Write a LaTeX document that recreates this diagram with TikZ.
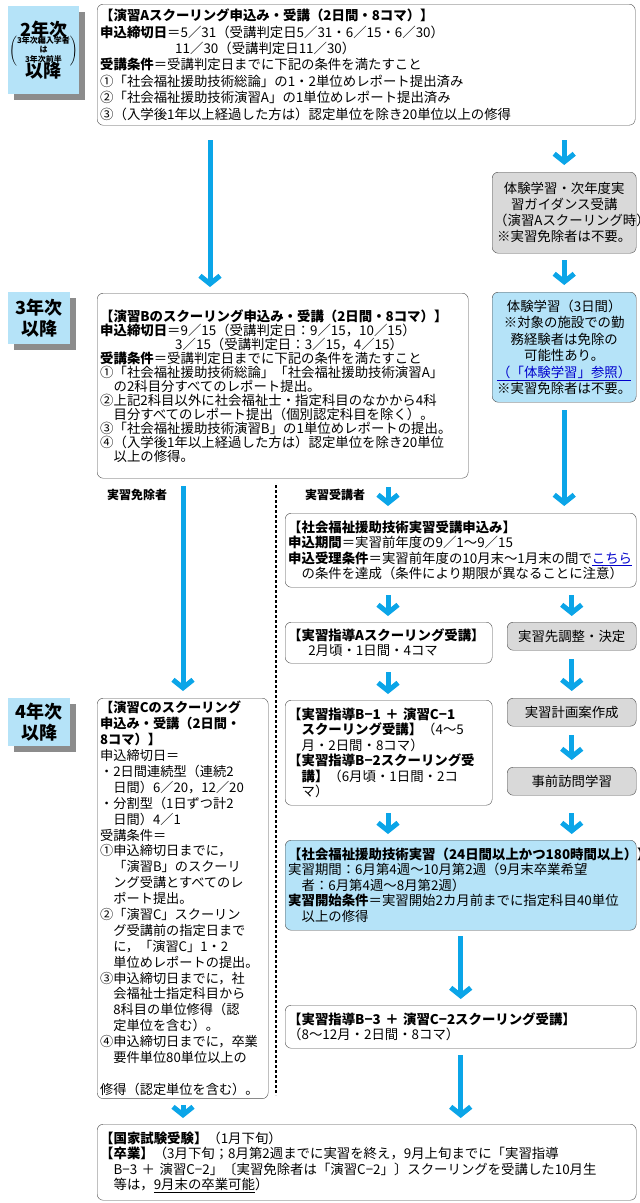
\documentclass[tikz,border=0pt]{standalone}
\usepackage{fontspec}
\setmainfont{Noto Sans CJK JP}
\usetikzlibrary{arrows.meta,shadows}
\definecolor{flowblue}{HTML}{0BA5E8}
\definecolor{paleblue}{HTML}{B5E3F8}
\definecolor{palegray}{HTML}{D9D9D9}
\newcommand{\lnk}[1]{\textcolor{blue!80!black}{\underline{#1}}}
\begin{document}
\begin{tikzpicture}[x=1pt,y=-1pt,
      box_st/.style={
         draw=black!70,
         rounded corners=6pt,
         anchor=north west,
         align=left,
         inner sep=5pt,
         font=\fontsize{13.4}{15.5}\selectfont},
      box_blue/.style={box_st, fill=paleblue},
      box_gray/.style={
         draw=black!70,
         fill=palegray,
         rounded corners=6pt,
         anchor=north west,
         align=center,
         inner sep=3pt,
         font=\fontsize{13.4}{16}\selectfont},
      year_st/.style={
         fill=paleblue,
         anchor=north west,
         align=center,
         inner sep=1pt,
         font=\bfseries\fontsize{18}{21}\selectfont,
         drop shadow={shadow xshift=6pt,shadow yshift=-6pt,fill=black!45,opacity=1}},
      flow/.style={
         -{Straight Barb[length=8pt,width=20pt]},
         draw=flowblue,
         line width=5pt},
      small_lbl/.style={font=\bfseries\fontsize{12}{14}\selectfont}
]
\useasboundingbox (0,0) rectangle (640,1203);

      % year labels
      \node[year_st,minimum width=62,minimum height=88] (y2) at (8,6)
        {2年次\\[-5pt]{\fontsize{8}{8.5}\selectfont$\left(\mbox{\begin{tabular}{@{}c@{}}3年次編入学者\\は\\3年次前半\end{tabular}}\right)$}\\[-5pt]以降};
      \node[year_st,minimum width=62,minimum height=52] (y3) at (8,292) {3年次\\以降};
      \node[year_st,minimum width=62,minimum height=48] (y4) at (8,698) {4年次\\以降};

      % left column
      \node[box_st,text width=532,minimum height=121,inner sep=3pt,font=\fontsize{13.4}{16.4}\selectfont] (boxA) at (97,4)
        {\textbf{【演習Aスクーリング申込み・受講（2日間・8コマ）】}\\
         \textbf{申込締切日}＝5／31（受講判定日5／31・6／15・6／30）\\
         \hspace{5.6em}11／30（受講判定日11／30）\\
         \textbf{受講条件}＝受講判定日までに下記の条件を満たすこと\\
         ①「社会福祉援助技術総論」の1・2単位めレポート提出済み\\
         ②「社会福祉援助技術演習A」の1単位めレポート提出済み\\
         ③（入学後1年以上経過した方は）認定単位を除き20単位以上の修得};
      \node[box_st,text width=365,minimum height=185,inner sep=3pt,font=\fontsize{13.4}{14}\selectfont] (boxB) at (97,293)
        {\textbf{【演習Bのスクーリング申込み・受講（2日間・8コマ）】}\\
         \textbf{申込締切日}＝9／15（受講判定日：9／15，10／15）\\
         \hspace{5.6em}3／15（受講判定日：3／15，4／15）\\
         \textbf{受講条件}＝受講判定日までに下記の条件を満たすこと\\
         ①「社会福祉援助技術総論」「社会福祉援助技術演習A」\\
         \hspace{1em}の2科目分すべてのレポート提出。\\
         ②上記2科目以外に社会福祉士・指定科目のなかから4科\\
         \hspace{1em}目分すべてのレポート提出（個別認定科目を除く）。\\
         ③「社会福祉援助技術演習B」の1単位めレポートの提出。\\
         ④（入学後1年以上経過した方は）認定単位を除き20単位\\
         \hspace{1em}以上の修得。};
      \node[box_st,text width=165,minimum height=394,inner sep=3pt,font=\fontsize{13.2}{15.9}\selectfont] (boxC) at (97,698)
        {\textbf{【演習Cのスクーリング}\\
         \textbf{申込み・受講（2日間・}\\
         \textbf{8コマ）】}\\
         申込締切日＝\\
         ・2日間連続型（連続2\\
         \hspace{1em}日間）6／20，12／20\\
         ・分割型（1日ずつ計2\\
         \hspace{1em}日間）4／1\\
         受講条件＝\\
         ①申込締切日までに，\\
         \hspace{1em}「演習B」のスクーリ\\
         \hspace{1em}ング受講とすべてのレ\\
         \hspace{1em}ポート提出。\\
         ②「演習C」スクーリン\\
         \hspace{1em}グ受講前の指定日まで\\
         \hspace{1em}に，「演習C」1・2\\
         \hspace{1em}単位めレポートの提出。\\
         ③申込締切日までに，社\\
         \hspace{1em}会福祉士指定科目から\\
         \hspace{1em}8科目の単位修得（認\\
         \hspace{1em}定単位を含む）。\\
         ④申込締切日までに，卒業\\
         \hspace{1em}要件単位80単位以上の\\
         \hspace{1em}修得（認定単位を含む）。};

      % right column
      \node[box_gray,text width=140,minimum height=81,inner sep=2pt] (taiken1) at (492,172)
        {体験学習・次年度実\\習ガイダンス受講\\（演習Aスクーリング時）\\※実習免除者は不要。};
      \node[box_blue,text width=138,minimum height=110,align=center,inner sep=3pt,font=\fontsize{13.4}{16.5}\selectfont] (taiken2) at (492,292)
        {体験学習（3日間）\\※対象の施設での勤\\務経験者は免除の\\可能性あり。\\\lnk{（「体験学習」参照）}\\※実習免除者は不要。};
      \node[box_st,text width=345,minimum height=74,inner sep=3pt] (moushikomi) at (285,513)
        {\textbf{【社会福祉援助技術実習受講申込み】}\\
         \textbf{申込期間}＝実習前年度の9／1～9／15\\
         \textbf{申込受理条件}＝実習前年度の10月末～1月末の間で\lnk{こちら}\\
         \hspace{1em}の条件を達成（条件により期限が異なることに注意）};
      \node[box_st,text width=201,minimum height=41,inner sep=3pt] (shidouA) at (285,622)
        {\textbf{【実習指導Aスクーリング受講】}\\\hspace{1.5em}2月頃・1日間・4コマ};
      \node[box_gray,text width=123,minimum height=28] (chousei) at (507,622) {実習先調整・決定};
      \node[box_st,text width=201,minimum height=105,inner sep=3pt] (shidouB) at (285,700)
        {\textbf{【実習指導B−1 ＋ 演習C−1}\\
         \hspace{1em}\textbf{スクーリング受講】}（4～5\\
         \hspace{1em}月・2日間・8コマ）\\
         \textbf{【実習指導B−2スクーリング受}\\
         \hspace{1em}\textbf{講】}（6月頃・1日間・2コ\\
         \hspace{1em}マ）};
      \node[box_gray,text width=123,minimum height=28] (keikaku) at (507,698) {実習計画案作成};
      \node[box_gray,text width=123,minimum height=28] (houmon) at (507,767) {事前訪問学習};
      \node[box_blue,text width=345,minimum height=90,inner sep=3pt] (jisshu) at (285,840)
        {\textbf{【社会福祉援助技術実習（24日間以上かつ180時間以上）】}\\
         実習期間：6月第4週～10月第2週（9月末卒業希望\\
         \hspace{1em}者：6月第4週～8月第2週）\\
         \textbf{実習開始条件}＝実習開始2カ月前までに指定科目40単位\\
         \hspace{1em}以上の修得};
      \node[box_st,text width=345,minimum height=43,inner sep=3pt] (shidouB3) at (285,1005)
        {\textbf{【実習指導B−3 ＋ 演習C−2スクーリング受講】}\\（8～12月・2日間・8コマ）};
      \node[box_st,text width=533,minimum height=76,inner sep=3pt] (kokushi) at (97,1124)
        {\textbf{【国家試験受験】}（1月下旬）\\
         \textbf{【卒業】}（3月下旬；8月第2週までに実習を終え，9月上旬までに「実習指導\\
         \hspace{1em}B−3 ＋ 演習C−2」〔実習免除者は「演習C−2」〕スクーリングを受講した10月生\\
         \hspace{1em}等は，\underline{9月末の卒業可能}）};

      % branch labels
      \node[small_lbl] (menjo) at (137,495) {実習免除者};
      \node[small_lbl] (jukou) at (335,495) {実習受講者};
      \coordinate (dtop) at (276,485);
      \coordinate (dbot) at (276,1095);
      \draw[line width=2.5pt,dash pattern=on 3pt off 2pt] (dtop) -- (dbot);

      % helper points for straight drops
      \coordinate (c1) at (taiken1.north |- boxA.south);
      \coordinate (c2) at (taiken2.south |- moushikomi.north);
      \coordinate (c3) at (houmon.south |- jisshu.north);
      \coordinate (c4) at (shidouB3.south |- kokushi.north);
      \coordinate (c5) at (chousei.north |- moushikomi.south);

      % connectors
      \draw[flow] ([xshift=113pt,yshift=-15pt]boxA.south west) -- ([xshift=113pt,yshift=6pt]boxB.north west);
      \draw[flow] ([yshift=-15pt]c1) -- ([yshift=7pt]taiken1.north);
      \draw[flow] ([yshift=-7pt]taiken1.south) -- ([yshift=7pt]taiken2.north);
      \draw[flow] ([yshift=-8pt]taiken2.south) -- ([yshift=7pt]c2);
      \draw[flow] ([xshift=291pt,yshift=-9pt]boxB.south west) -- ([xshift=103pt,yshift=7pt]moushikomi.north west);
      \draw[flow] ([xshift=86pt,yshift=-8pt]boxB.south west) -- ([xshift=86pt,yshift=7pt]boxC.north west);
      \draw[flow] ([xshift=103pt,yshift=-8pt]moushikomi.south west) -- ([xshift=103pt,yshift=6pt]shidouA.north west);
      \draw[flow] ([yshift=-8pt]c5) -- ([yshift=6pt]chousei.north);
      \draw[flow] ([xshift=103pt,yshift=-9pt]shidouA.south west) -- ([xshift=103pt,yshift=6pt]shidouB.north west);
      \draw[flow] ([yshift=-9pt]chousei.south) -- ([yshift=7pt]keikaku.north);
      \draw[flow] ([yshift=-9pt]keikaku.south) -- ([yshift=7pt]houmon.north);
      \draw[flow] ([xshift=103pt,yshift=-8pt]shidouB.south west) -- ([xshift=103pt,yshift=6pt]jisshu.north west);
      \draw[flow] ([yshift=-18pt]houmon.south) -- ([yshift=6pt]c3);
      \draw[flow] ([yshift=-6pt]jisshu.south) -- ([yshift=6pt]shidouB3.north);
      \draw[flow] ([yshift=-7pt]shidouB3.south) -- ([yshift=6pt]c4);
      \draw[flow] ([xshift=86pt,yshift=-6pt]boxC.south west) -- ([xshift=86pt,yshift=6pt]kokushi.north west);
\end{tikzpicture}
\end{document}
